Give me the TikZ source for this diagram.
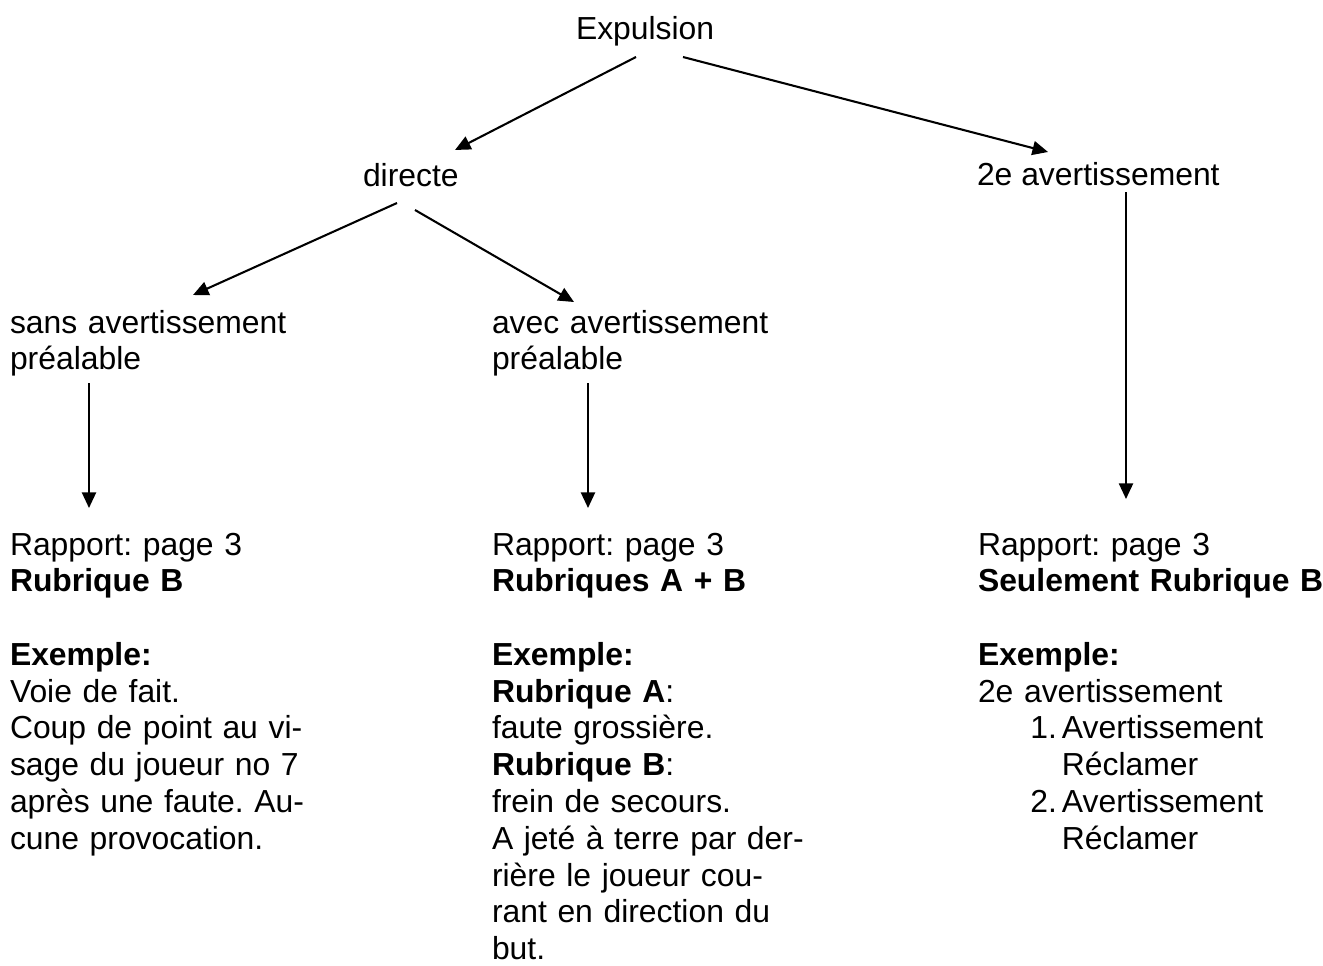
\documentclass[tikz,border=0pt]{standalone}
\usepackage{fontspec}
\setmainfont{Liberation Sans}
\usetikzlibrary{arrows.meta}
\tikzset{
  txt/.style={anchor=base west, inner sep=0pt, outer sep=0pt, align=left, text width=200pt,
    font=\fontsize{12.3pt}{14.2pt}\selectfont},
  lbl/.style={anchor=base west, inner sep=0pt, outer sep=0pt,
    font=\fontsize{12.3pt}{14.2pt}\selectfont},
  arr/.style={line width=0.8pt, -{Triangle[length=6pt,width=5.4pt]}}
}
\begin{document}
\frenchspacing
\begin{tikzpicture}[x=0.386pt,y=-0.386pt]
\useasboundingbox[fill=white] (0,0) rectangle (1323,965);
% nodes
\node[lbl] (exp) at (576,39) {Expulsion};
\node[lbl] (dir) at (363,186) {directe};
\node[lbl] (deux) at (977,185) {2e avertissement};
\node[txt] (sans) at (10,333) {sans avertissement\\préalable};
\node[txt] (avec) at (492,333) {avec avertissement\\préalable};
\node[txt] (colA) at (10,555) {Rapport: page 3\\\textbf{Rubrique B}\\[14.2pt]\textbf{Exemple:}\\Voie de fait.\\Coup de point au vi-\\sage du joueur no 7\\après une faute. Au-\\cune provocation.};
\node[txt] (colB) at (492,555) {Rapport: page 3\\\textbf{Rubriques A + B}\\[14.2pt]\textbf{Exemple:}\\\textbf{Rubrique A}:\\faute grossière.\\\textbf{Rubrique B}:\\frein de secours.\\A jeté à terre par der-\\rière le joueur cou-\\rant en direction du\\but.};
\node[txt] (colC) at (978,555) {Rapport: page 3\\\textbf{Seulement Rubrique B}\\[14.2pt]\textbf{Exemple:}\\2e avertissement\\\hspace*{20.2pt}\makebox[12.2pt][l]{1.}Avertissement\\\hspace*{32.4pt}Réclamer\\\hspace*{20.2pt}\makebox[12.2pt][l]{2.}Avertissement\\\hspace*{32.4pt}Réclamer};
% connector end points
\coordinate (e1s) at (636,57);  \coordinate (e1t) at (455,150);
\coordinate (e2s) at (683,57);  \coordinate (e2t) at (1048,152);
\coordinate (d1s) at (397,203); \coordinate (d1t) at (193,295);
\coordinate (d2s) at (415,210); \coordinate (d2t) at (574,302);
\coordinate (v1s) at (89,383);  \coordinate (v1t) at (89,508);
\coordinate (v2s) at (588,383); \coordinate (v2t) at (588,508);
\coordinate (v3s) at (1126,192); \coordinate (v3t) at (1126,499);
% connectors
\draw[arr] (e1s) -- (e1t);
\draw[arr] (e2s) -- (e2t);
\draw[arr] (d1s) -- (d1t);
\draw[arr] (d2s) -- (d2t);
\draw[arr] (v1s) -- (v1t);
\draw[arr] (v2s) -- (v2t);
\draw[arr] (v3s) -- (v3t);
\end{tikzpicture}
\end{document}
